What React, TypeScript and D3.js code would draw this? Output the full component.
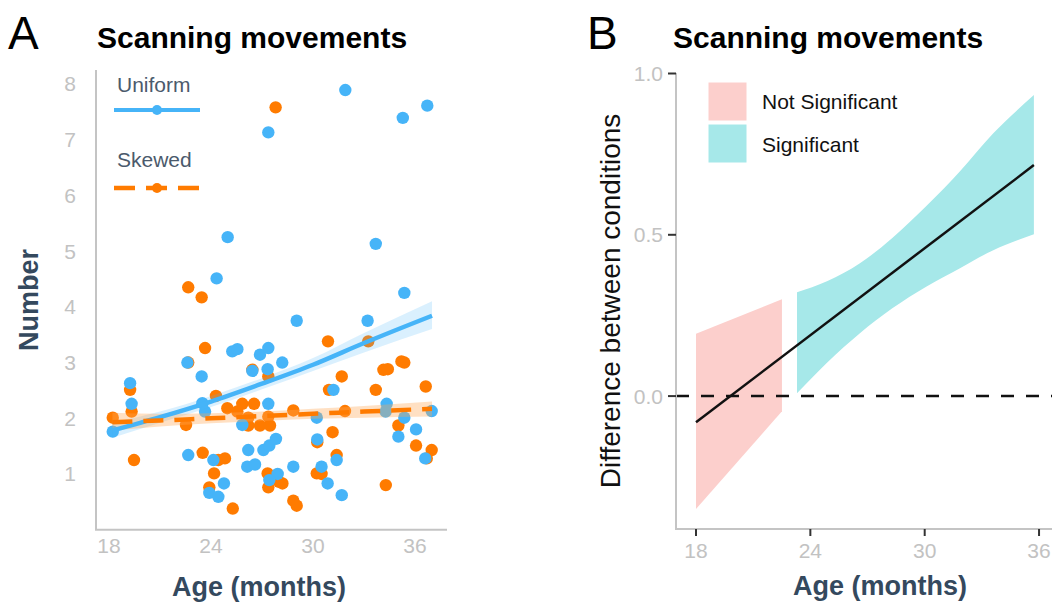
import * as d3 from "d3";

const W = 1052;
const H = 602;
const sans = "'Liberation Sans', Arial, sans-serif";

// Panel A: number of scanning movements per child, by condition
const uniformAge = [18.22, 19.24, 19.33, 22.61, 23.45, 23.49, 23.65, 22.66, 24.14, 23.9, 24.43, 24.76, 24.33, 24.98, 25.25, 25.55, 26.88, 27.37, 28.19, 26.43, 27.33, 29.04, 27.37, 25.84, 26.19, 27.08, 27.43, 27.82, 26.13, 26.59, 27.92, 28.84, 27.43, 27.37, 31.9, 35.28, 36.72, 33.69, 35.37, 33.21, 30.22, 30.25, 31.2, 31.39, 30.5, 30.86, 31.69, 34.33, 34.27, 35.37, 35.02, 36.06, 36.98, 36.6];
const uniformNum = [1.76, 2.63, 2.26, 3.0, 2.75, 2.27, 2.12, 1.34, 1.25, 0.66, 0.59, 0.83, 4.51, 5.25, 3.2, 3.24, 3.14, 3.26, 3.0, 2.85, 2.88, 3.75, 2.26, 1.88, 1.43, 1.43, 1.51, 1.63, 1.13, 1.17, 1.0, 1.13, 0.89, 7.13, 7.89, 7.39, 7.61, 5.13, 4.25, 3.75, 2.01, 1.62, 2.51, 1.25, 1.13, 0.83, 0.62, 2.26, 2.12, 2.01, 1.67, 1.8, 2.13, 1.28];

const skewedAge = [18.22, 19.24, 19.33, 19.47, 22.66, 23.45, 22.66, 23.65, 24.29, 22.53, 23.51, 24.43, 24.82, 24.18, 23.9, 25.28, 27.8, 26.43, 27.37, 24.96, 25.55, 25.84, 26.53, 26.19, 26.19, 26.88, 27.37, 27.47, 28.84, 27.33, 28.0, 28.2, 27.37, 28.84, 29.04, 30.25, 30.88, 30.94, 31.69, 31.15, 31.39, 30.22, 30.5, 31.88, 33.25, 34.14, 34.4, 33.69, 35.2, 35.37, 35.02, 36.06, 36.63, 36.98, 36.69, 34.28];
const skewedNum = [2.01, 2.51, 2.12, 1.25, 4.35, 4.17, 3.0, 3.26, 2.4, 1.88, 1.38, 1.25, 1.28, 1.01, 0.76, 0.38, 7.58, 2.87, 2.75, 2.18, 2.12, 2.26, 2.26, 2.01, 1.87, 1.87, 2.03, 1.87, 2.14, 1.01, 0.86, 0.83, 0.76, 0.52, 0.43, 1.57, 3.38, 2.51, 2.75, 1.75, 1.34, 1.01, 1.0, 2.13, 3.38, 2.87, 2.88, 2.51, 3.02, 3.0, 1.87, 1.51, 2.57, 1.43, 1.28, 0.8];

// fitted curves with confidence bands
const fitAge = [18.2, 21, 24, 27, 30, 33, 37];
const uniformFit = [1.78, 2.02, 2.3, 2.62, 2.96, 3.35, 3.84];
const uniformLo = [1.65, 1.92, 2.2, 2.52, 2.85, 3.18, 3.6];
const uniformHi = [1.92, 2.12, 2.4, 2.72, 3.08, 3.53, 4.1];
const skewedFit = [1.93, 1.96, 2.0, 2.04, 2.08, 2.12, 2.17];
const skewedLo = [1.78, 1.85, 1.91, 1.95, 1.99, 2.01, 2.03];
const skewedHi = [2.1, 2.08, 2.09, 2.12, 2.17, 2.22, 2.3];

// Panel B: difference between conditions
const diffAge = [18, 35.73];
const diffFit = [-0.081, 0.716];
const nsAge = [18, 22.51];
const nsLo = [-0.35, -0.047];
const nsHi = [0.193, 0.3];
const sigAge = [23.3, 24.9, 26.6, 28.3, 30.1, 31.9, 33.6, 35.73];
const sigLo = [0.009, 0.105, 0.195, 0.272, 0.34, 0.398, 0.452, 0.502];
const sigHi = [0.322, 0.357, 0.412, 0.49, 0.59, 0.7, 0.815, 0.933];

const ageTicks = [18, 24, 30, 36];
const numberTicks = [1, 2, 3, 4, 5, 6, 7, 8];
const diffTicks = [0, 0.5, 1.0];

const blue = "#46b4f8";
const orange = "#ff7b00";
const pink = "#fccfcc";
const teal = "#a6e8e9";
const axisGrey = "#c4c4c4";
const tickText = "#c2c2c2";
const slate = "#34495e";

const App = () => {
  // panel A scales
  const xA = d3.scaleLinear().domain([17.235, 37.88]).range([96, 447]);
  const yA = d3.scaleLinear().domain([0, 8.25]).range([529.7, 70]);

  // panel B scales
  const xB = d3.scaleLinear().domain([16.95, 36.68]).range([676, 1052]);
  const yB = d3.scaleLinear().domain([-0.412, 1.0]).range([529, 73.5]);

  const bandA = (lo: number[], hi: number[]) =>
    d3
      .area<number>()
      .x((a) => xA(a))
      .y0((_, i) => yA(lo[i]))
      .y1((_, i) => yA(hi[i]))
      .curve(d3.curveMonotoneX)(fitAge) || "";
  const lineA = (v: number[]) =>
    d3
      .line<number>()
      .x((a) => xA(a))
      .y((_, i) => yA(v[i]))
      .curve(d3.curveMonotoneX)(fitAge) || "";

  const bandB = (ages: number[], lo: number[], hi: number[]) =>
    d3
      .area<number>()
      .x((a) => xB(a))
      .y0((_, i) => yB(lo[i]))
      .y1((_, i) => yB(hi[i]))
      .curve(d3.curveNatural)(ages) || "";
  const diffLine =
    d3
      .line<number>()
      .x((a) => xB(a))
      .y((_, i) => yB(diffFit[i]))(diffAge) || "";

  return (
    <div style={{ position: "fixed", left: 0, top: 0 }}>
      <svg width={W} height={H} viewBox={`0 0 ${W} ${H}`} style={{ display: "block", background: "#fff" }}>
        {/* ---------- Panel A ---------- */}
        <text x={8} y={49} fontFamily={sans} fontSize={46}>A</text>
        <text x={97} y={48} fontFamily={sans} fontSize={30} fontWeight="bold">
          Scanning movements
        </text>

        <line x1={96} x2={96} y1={70} y2={529.7} stroke={axisGrey} strokeWidth={2} />
        <line x1={95} x2={447} y1={529.7} y2={529.7} stroke={axisGrey} strokeWidth={2} />
        {numberTicks.map((t) => (
          <text key={t} x={76} y={yA(t) + 7.5} textAnchor="end" fill={tickText} fontFamily={sans} fontSize={21}>
            {t}
          </text>
        ))}
        {ageTicks.map((t) => (
          <text key={t} x={xA(t)} y={553} textAnchor="middle" fill={tickText} fontFamily={sans} fontSize={21}>
            {t}
          </text>
        ))}

        <g className="points">
          {skewedAge.map((a, i) => (
            <circle key={"s" + i} cx={xA(a)} cy={yA(skewedNum[i])} r={6.2} fill={orange} />
          ))}
          {uniformAge.map((a, i) => (
            <circle key={"u" + i} cx={xA(a)} cy={yA(uniformNum[i])} r={6.2} fill={blue} />
          ))}
        </g>

        <path d={bandA(uniformLo, uniformHi)} fill={blue} opacity={0.2} />
        <path d={bandA(skewedLo, skewedHi)} fill="#ffa552" opacity={0.35} />
        <path d={lineA(uniformFit)} fill="none" stroke={blue} strokeWidth={4.5} />
        <path d={lineA(skewedFit)} fill="none" stroke={orange} strokeWidth={4.5} strokeDasharray="20 11" />

        {/* legend A */}
        <text x={117} y={92} fill="#4b5a6c" fontFamily={sans} fontSize={21}>Uniform</text>
        <line x1={114} x2={200} y1={110} y2={110} stroke={blue} strokeWidth={4} />
        <circle cx={157} cy={110} r={5} fill={blue} />
        <text x={117} y={167} fill="#4b5a6c" fontFamily={sans} fontSize={21}>Skewed</text>
        <line x1={114} x2={200} y1={188} y2={188} stroke={orange} strokeWidth={4.5} strokeDasharray="21 11" />
        <circle cx={157} cy={188} r={5} fill={orange} />

        <text
          transform={`translate(38,300) rotate(-90)`}
          textAnchor="middle"
          fill={slate}
          fontFamily={sans}
          fontSize={27}
          fontWeight="bold"
        >
          Number
        </text>
        <text x={259} y={596} textAnchor="middle" fill={slate} fontFamily={sans} fontSize={27} fontWeight="bold">
          Age (months)
        </text>

        {/* ---------- Panel B ---------- */}
        <text x={587} y={49} fontFamily={sans} fontSize={46}>B</text>
        <text x={673} y={48} fontFamily={sans} fontSize={30} fontWeight="bold">
          Scanning movements
        </text>

        <path d={bandB(nsAge, nsLo, nsHi)} fill={pink} />
        <path d={bandB(sigAge, sigLo, sigHi)} fill={teal} />
        <line x1={676} x2={1052} y1={yB(0)} y2={yB(0)} stroke="#111" strokeWidth={2.5} strokeDasharray="13 12" />
        <path d={diffLine} fill="none" stroke="#111" strokeWidth={2.5} />

        <line x1={676} x2={676} y1={73} y2={529} stroke={axisGrey} strokeWidth={2} />
        <line x1={675} x2={1052} y1={529} y2={529} stroke={axisGrey} strokeWidth={2} />
        {diffTicks.map((t) => (
          <g key={t}>
            <line x1={668} x2={676} y1={yB(t)} y2={yB(t)} stroke="#333" strokeWidth={2} />
            <text x={663} y={yB(t) + 7.5} textAnchor="end" fill={tickText} fontFamily={sans} fontSize={21}>
              {t.toFixed(1)}
            </text>
          </g>
        ))}
        {ageTicks.map((t) => (
          <g key={t}>
            <line x1={xB(t)} x2={xB(t)} y1={529} y2={536} stroke="#333" strokeWidth={2} />
            <text x={xB(t)} y={558} textAnchor="middle" fill={tickText} fontFamily={sans} fontSize={21}>
              {t}
            </text>
          </g>
        ))}

        {/* legend B */}
        <rect x={708} y={82} width={39} height={39} fill={pink} stroke="#fff" strokeWidth={1} />
        <rect x={708} y={124} width={39} height={39} fill={teal} stroke="#fff" strokeWidth={1} />
        <text x={762} y={109} fill="#111" fontFamily={sans} fontSize={21}>Not Significant</text>
        <text x={762} y={152} fill="#111" fontFamily={sans} fontSize={21}>Significant</text>

        <text
          transform={`translate(620,301) rotate(-90)`}
          textAnchor="middle"
          fill="#111"
          fontFamily={sans}
          fontSize={28}
        >
          Difference between conditions
        </text>
        <text x={880} y={595} textAnchor="middle" fill={slate} fontFamily={sans} fontSize={27} fontWeight="bold">
          Age (months)
        </text>
      </svg>
    </div>
  );
};

export default App;
